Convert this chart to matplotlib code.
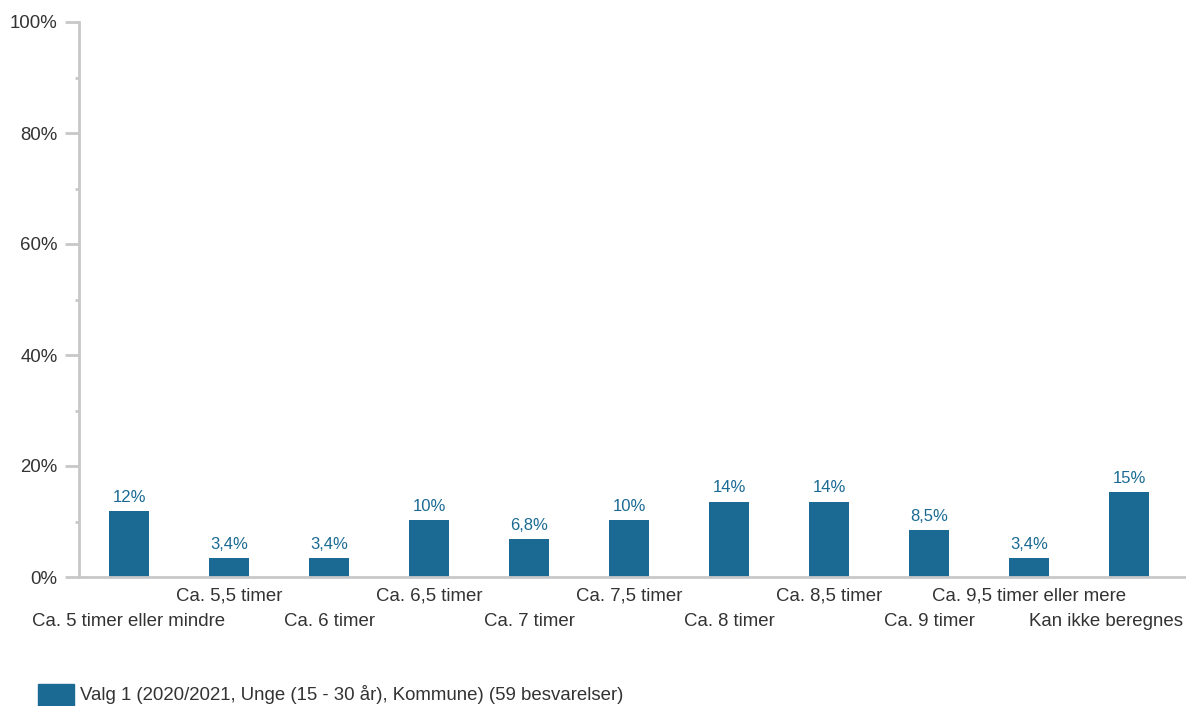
import numpy as np
import matplotlib
matplotlib.use("Agg")
import matplotlib.pyplot as plt
from matplotlib.patches import Rectangle
from matplotlib.ticker import MultipleLocator, FuncFormatter
from matplotlib.transforms import blended_transform_factory

# ── 데이터 ──────────────────────────────
categories = ["Ca. 5 timer eller mindre", "Ca. 5,5 timer", "Ca. 6 timer",
              "Ca. 6,5 timer", "Ca. 7 timer", "Ca. 7,5 timer", "Ca. 8 timer",
              "Ca. 8,5 timer", "Ca. 9 timer", "Ca. 9,5 timer eller mere",
              "Kan ikke beregnes"]
values = [11.9, 3.4, 3.4, 10.2, 6.8, 10.2, 13.6, 13.6, 8.5, 3.4, 15.3]
value_labels = ["12%", "3,4%", "3,4%", "10%", "6,8%", "10%", "14%",
                "14%", "8,5%", "3,4%", "15%"]
legend_label = "Valg 1 (2020/2021, Unge (15 - 30 år), Kommune) (59 besvarelser)"

BAR_COLOR = "#1a6a93"
AXIS_COLOR = "#c8c8c8"
TEXT_COLOR = "#333333"

plt.rcParams['font.family'] = ['Liberation Sans', 'DejaVu Sans']

W, H = 1186, 706
fig = plt.figure(figsize=(W / 100, H / 100), dpi=100)
ax = fig.add_axes([79 / W, 1 - 577 / H, (W - 79) / W, (577 - 22) / H])

x = np.arange(len(categories))
ax.bar(x, values, width=0.4, color=BAR_COLOR, zorder=2)

for xi, v, lab in zip(x, values, value_labels):
    ax.text(xi, v + 1.1, lab, ha="center", va="bottom", fontsize=12,
            color=BAR_COLOR)

ax.set_xlim(-0.5, 10.57)
ax.set_ylim(0, 100)

ax.yaxis.set_major_locator(MultipleLocator(20))
ax.yaxis.set_minor_locator(MultipleLocator(10))
ax.yaxis.set_major_formatter(FuncFormatter(lambda v, p: f"{int(v)}%"))
ax.tick_params(axis="y", which="major", length=10, width=2, color=AXIS_COLOR,
               labelsize=13.4, labelcolor=TEXT_COLOR, pad=5.5)
ax.tick_params(axis="y", which="minor", length=3, width=2, color=AXIS_COLOR)
ax.set_xticks([])

for side in ["top", "right"]:
    ax.spines[side].set_visible(False)
for side in ["left", "bottom"]:
    ax.spines[side].set_color(AXIS_COLOR)
    ax.spines[side].set_linewidth(2)

# 카테고리 라벨 (두 줄로 교차 배치)
trans = blended_transform_factory(ax.transData, fig.transFigure)
for i, cat in enumerate(categories):
    ypix = 621 if i % 2 == 0 else 596
    if i == len(categories) - 1:
        # 마지막 라벨은 오른쪽 끝에 맞춤
        fig.text(1183 / W, 1 - ypix / H, cat, ha="right", va="center",
                 fontsize=13.4, color=TEXT_COLOR)
    else:
        ax.text(i, 1 - ypix / H, cat, transform=trans, ha="center",
                va="center", fontsize=13.4, color=TEXT_COLOR, clip_on=False)

# 범례
fig.patches.append(Rectangle((38 / W, 0), 36 / W, 22 / H,
                             transform=fig.transFigure, color=BAR_COLOR))
fig.text(80 / W, 11 / H, legend_label, ha="left", va="center",
         fontsize=13.4, color=TEXT_COLOR)

fig.savefig("out.png", dpi=100)
